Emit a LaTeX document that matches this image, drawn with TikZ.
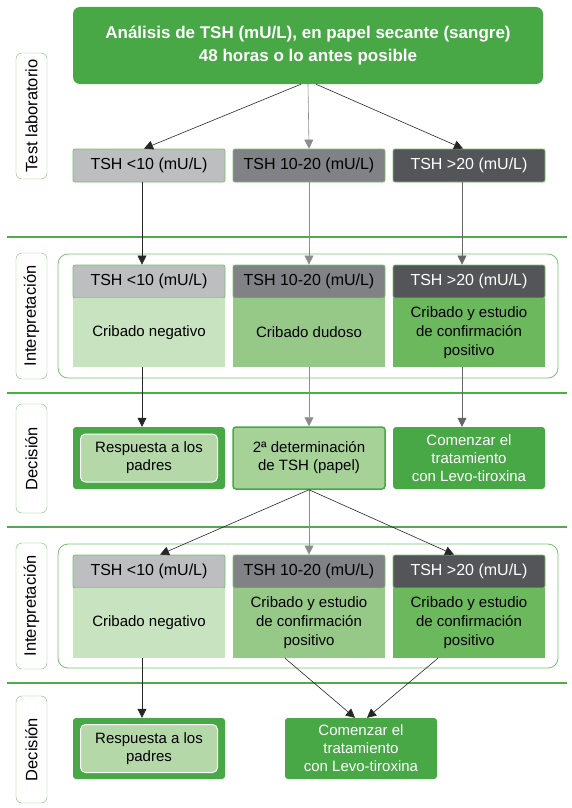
\documentclass[tikz,border=0pt]{standalone}
\usepackage{fontspec}
\setmainfont{Liberation Sans}
\usetikzlibrary{arrows.meta}

\definecolor{topgreen}{RGB}{72,168,70}
\definecolor{linegreen}{RGB}{80,172,72}
\definecolor{framegreen}{RGB}{120,192,110}
\definecolor{hdrA}{RGB}{188,190,192}
\definecolor{hdrB}{RGB}{128,130,133}
\definecolor{hdrC}{RGB}{84,85,88}
\definecolor{bodyA}{RGB}{200,227,192}
\definecolor{bodyB}{RGB}{150,201,136}
\definecolor{bodyC}{RGB}{108,184,92}
\definecolor{respfill}{RGB}{180,216,168}
\definecolor{detfill}{RGB}{166,209,151}

\tikzset{
  top/.style={fill=topgreen, rounded corners=7pt, text=white, align=center,
    minimum width=470pt, minimum height=77pt, inner sep=0pt,
    font=\bfseries\fontsize{17}{22.7}\selectfont},
  lab/.style={draw=framegreen, fill=white, rounded corners=6pt, rotate=90,
    minimum height=31pt, inner sep=0pt, font=\fontsize{16.5}{18}\selectfont},
  tsh/.style={draw=framegreen, line width=0.8pt, rounded corners=2pt, minimum width=152pt,
    minimum height=33pt, inner sep=0pt, font=\fontsize{16}{18}\selectfont},
  res/.style={minimum width=152pt, inner sep=0pt, align=center,
    font=\fontsize{15}{19}\selectfont},
  dec/.style={rounded corners=3pt, minimum width=152pt, inner sep=0pt,
    align=center, font=\fontsize{15}{18}\selectfont},
  group/.style={draw=framegreen, line width=0.8pt, rounded corners=10pt,
    minimum width=500pt, minimum height=124pt},
  sep/.style={draw=linegreen, line width=2pt},
  arr/.style={-{Triangle[length=9pt,width=9pt]}, line width=0.6pt},
}

\begin{document}
\begin{tikzpicture}[x=1pt,y=-1pt]
\useasboundingbox (0,0) rectangle (572,808);

% separators
\foreach \y in {237,393,527,683}
  \draw[sep] (7,\y) -- (567,\y);

% side labels
\node[lab, minimum width=126pt] (l1) at (31.5,116) {Test laboratorio};
\node[lab, minimum width=126pt] (l2) at (31.5,316) {Interpretación};
\node[lab, minimum width=109pt] (l3) at (31.5,458.5) {Decisión};
\node[lab, minimum width=126pt] (l4) at (31.5,606) {Interpretación};
\node[lab, minimum width=107pt] (l5) at (31.5,749.5) {Decisión};

% test laboratorio
\node[top] (ana) at (308,45.5) {Análisis de TSH (mU/L), en papel secante (sangre)\\48 horas o lo antes posible};
\node[tsh, fill=hdrA] (t1) at (149,165.5) {TSH <10 (mU/L)};
\node[tsh, fill=hdrB] (t2) at (309,165.5) {TSH 10-20 (mU/L)};
\node[tsh, fill=hdrC, text=white] (t3) at (469,165.5) {TSH >20 (mU/L)};

% interpretacion 1
\node[group] (g1) at (308,316) {};
\node[tsh, fill=hdrA] (h1) at (149,281.5) {TSH <10 (mU/L)};
\node[tsh, fill=hdrB] (h2) at (309,281.5) {TSH 10-20 (mU/L)};
\node[tsh, fill=hdrC, text=white] (h3) at (469,281.5) {TSH >20 (mU/L)};
\node[res, fill=bodyA, minimum height=69pt] (b1) at (149,332.5) {Cribado negativo};
\node[res, fill=bodyB, minimum height=69pt] (b2) at (309,332.5) {Cribado dudoso};
\node[res, fill=bodyC, minimum height=69pt] (b3) at (469,332.5) {Cribado y estudio\\de confirmación\\positivo};

% decision 1
\node[dec, fill=topgreen, minimum height=62pt] (r1) at (149,458) {};
\node[dec, fill=respfill, draw=white, line width=1pt, rounded corners=5pt,
  minimum width=137pt, minimum height=48pt] (r1in) at (r1.center) {Respuesta a los\\padres};
\node[dec, fill=detfill, draw=topgreen, line width=1.5pt, minimum height=62pt] (det) at (309,458) {2ª determinación\\de TSH (papel)};
\node[dec, fill=topgreen, text=white, minimum height=62pt] (c1) at (469,458) {Comenzar el\\tratamiento\\con Levo-tiroxina};

% interpretacion 2
\node[group] (g2) at (308,606) {};
\node[tsh, fill=hdrA] (k1) at (149,571.5) {TSH <10 (mU/L)};
\node[tsh, fill=hdrB] (k2) at (309,571.5) {TSH 10-20 (mU/L)};
\node[tsh, fill=hdrC, text=white] (k3) at (469,571.5) {TSH >20 (mU/L)};
\node[res, fill=bodyA, minimum height=70pt] (e1) at (149,623) {Cribado negativo};
\node[res, fill=bodyB, minimum height=70pt] (e2) at (309,623) {Cribado y estudio\\de confirmación\\positivo};
\node[res, fill=bodyC, minimum height=70pt] (e3) at (469,623) {Cribado y estudio\\de confirmación\\positivo};

% decision 2
\node[dec, fill=topgreen, minimum height=61pt] (r2) at (149,748.5) {};
\node[dec, fill=respfill, draw=white, line width=1pt, rounded corners=5pt,
  minimum width=137pt, minimum height=48pt] (r2in) at (r2.center) {Respuesta a los\\padres};
\node[dec, fill=topgreen, text=white, minimum height=61pt] (c2) at (361,748.5) {Comenzar el\\tratamiento\\con Levo-tiroxina};

% arrows
\draw[arr, black!85] ([xshift=-7pt]ana.south) -- ([xshift=-5pt]t1.north);
\draw[arr, black!45] (ana.south) -- (t2.north);
\draw[arr, black!85] ([xshift=8pt]ana.south) -- ([xshift=-6pt]t3.north);
\draw[arr, black!85] ([xshift=-7pt]t1.south) -- ([xshift=-7pt]h1.north);
\draw[arr, black!45] (t2.south) -- (h2.north);
\draw[arr, black!60] ([xshift=-7pt]t3.south) -- ([xshift=-7pt]h3.north);
\draw[arr, black!85] ([xshift=-7pt]b1.south) -- ([xshift=-7pt]r1.north);
\draw[arr, black!45] (b2.south) -- (det.north);
\draw[arr, black!60] ([xshift=-7pt]b3.south) -- ([xshift=-7pt]c1.north);
\draw[arr, black!85] (det.south) -- ([xshift=11pt]k1.north);
\draw[arr, black!45] (det.south) -- (k2.north);
\draw[arr, black!85] (det.south) -- ([xshift=-15pt]k3.north);
\draw[arr, black!85] ([xshift=-7pt]e1.south) -- ([xshift=-7pt]r2.north);
\draw[arr, black!85] ([xshift=-24pt]e2.south) -- ([xshift=-6pt]c2.north);
\draw[arr, black!85] ([xshift=-31pt]e3.south) -- ([xshift=6pt]c2.north);
\end{tikzpicture}
\end{document}
